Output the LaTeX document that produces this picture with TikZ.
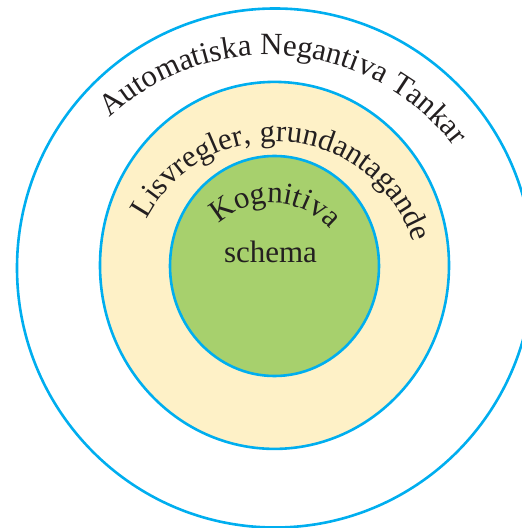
\documentclass[tikz,border=0pt]{standalone}
\usepackage{fontspec}
\setmainfont{Liberation Serif}
\usetikzlibrary{decorations.text}
\definecolor{ringblue}{RGB}{0,174,239}
\definecolor{cream}{RGB}{254,241,199}
\definecolor{leaf}{RGB}{167,208,109}
\definecolor{ink}{RGB}{35,31,32}
\newcommand{\labelfont}{\fontsize{31}{36}\selectfont}
\tikzset{
  ring/.style={draw=ringblue, line width=2.6pt},
  arclabel/.style={decorate, decoration={text along path, text align=center, text color=ink,
    text={|\labelfont|#1}}},
}
\begin{document}
\begin{tikzpicture}[x=1pt,y=1pt]
  \useasboundingbox (0,0) rectangle (522,528);
  \clip (0,0) rectangle (522,528);
  % ring centres
  \coordinate (c0) at (275,260);
  \coordinate (c1) at (274.5,262.6);
  \coordinate (c2) at (274.5,262);
  % concentric rings
  \draw[ring] (c0) ellipse [x radius=258, y radius=259.5];
  \draw[ring, fill=cream] (c1) ellipse [x radius=174.5, y radius=183.5];
  \draw[ring, fill=leaf] (c2) ellipse [x radius=104.5, y radius=110];
  % curved labels
  \coordinate (t0) at (269,239.6);
  \coordinate (t1) at (275,241.5);
  \coordinate (t2) at (272,248);
  \path[arclabel={Automatiska Negantiva Tankar}]
    (t0) ++(175.25:233.4) arc[start angle=175.25, end angle=-4.75, radius=233.4];
  \path[arclabel={Lisvregler, grundantagande}]
    (t1) ++(175:145) arc[start angle=175, end angle=-5, radius=145];
  \path[arclabel={Kognitiva}]
    (t2) ++(177.3:77) arc[start angle=177.3, end angle=-2.7, radius=77];
  \node[anchor=base, text=ink, inner sep=0pt, font=\labelfont] (schema) at (270.5,265.3) {schema};
\end{tikzpicture}
\end{document}
